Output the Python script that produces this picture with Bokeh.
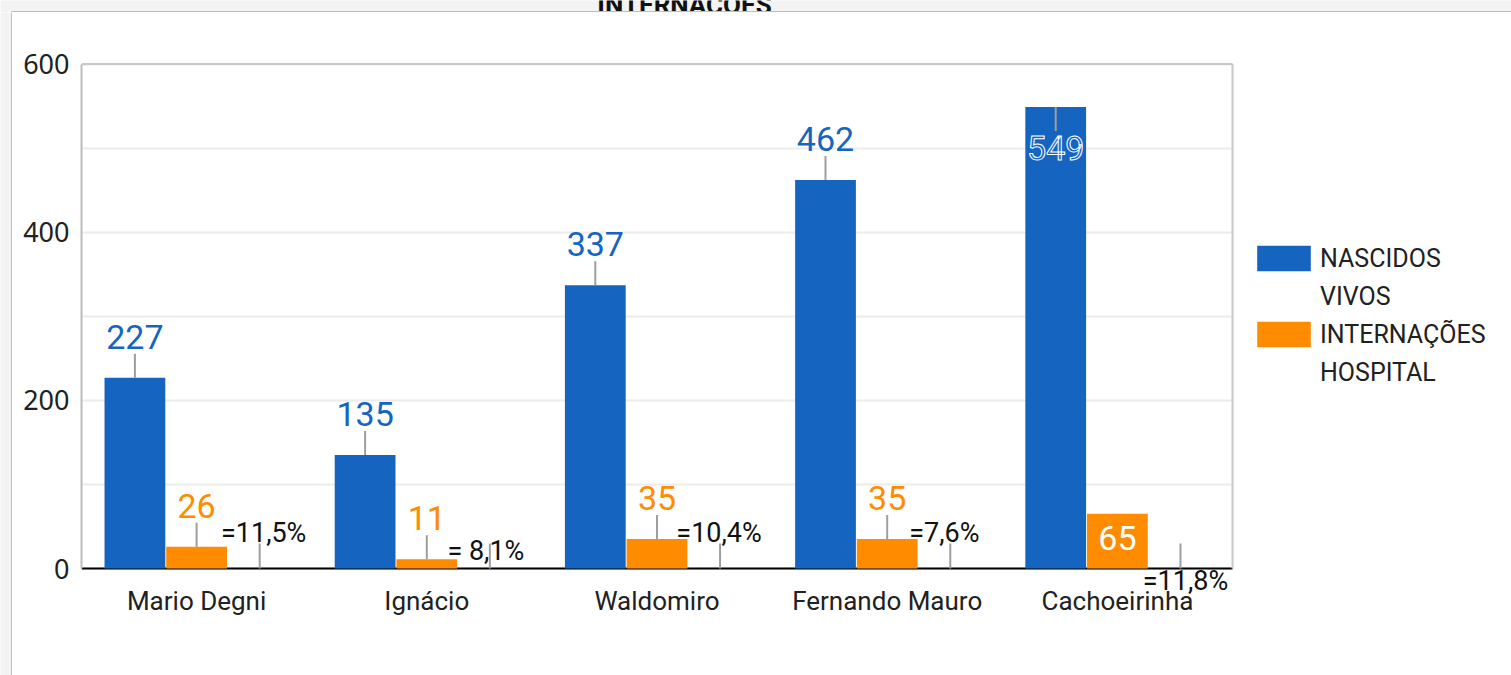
from bokeh.plotting import figure
from bokeh.layouts import column, row
from bokeh.models import (Range1d, ColumnDataSource, Legend, LegendItem,
                          FixedTicker, SingleIntervalTicker)
from bokeh.core.properties import value
from bokeh.embed import file_html
from bokeh.resources import INLINE

# ---------------- data ----------------
categories = ["Mario Degni", "Ignácio", "Waldomiro", "Fernando Mauro", "Cachoeirinha"]
nascidos_vivos = [227, 135, 337, 462, 549]
internacoes_hospital = [26, 11, 35, 35, 65]
percentuais = ["=11,5%", "= 8,1%", "=10,4%", "=7,6%", "=11,8%"]
y_ticks = [0, 200, 400, 600]
series_names = [["NASCIDOS", "VIVOS"], ["INTERNAÇÕES", "HOSPITAL"]]
title_text = "INTERNAÇÕES"

# ---------------- styles ----------------
BLUE = "#1565c0"
ORANGE = "#ff8c00"
LEADER = "#9e9e9e"
PAGE_GREY = "#f3f3f3"
CARD_EDGE = "#bdbdbd"
FRAME_EDGE = "#c8c8c8"
FONT = "Roboto"
blue_inside = [False, False, False, False, True]
orange_inside = [False, False, False, False, True]
pct_dx = [4, -4, -1, -6, 5]
pct_dy = [-36, -18, -36, -36, 12]

W, H = 1511, 675
CARD = 12                      # card offset from the page corner
MW, MH = W - CARD, H - CARD    # main figure size
# page pixel layout of the plotting frame
FL, FT, FB = 81, 62, 600
PX_PER_CAT = 230.2                     # category band width in pixels
Y0_PX, PX_PER_UNIT = 568, 0.8408       # value 0 position / scale

n = len(categories)
x_start = -0.5
x_end = x_start + (W - FL) / PX_PER_CAT
y_start = -(FB - Y0_PX) / PX_PER_UNIT
y_end = (Y0_PX - FT) / PX_PER_UNIT

# ---------------- header strip (page grey + clipped title) ----------------
header = figure(width=W, height=CARD, x_range=Range1d(0, W), y_range=Range1d(CARD, 0),
                x_axis_type=None, y_axis_type=None, min_border=0,
                toolbar_location=None, output_backend="svg")
header.frame_align = False
header.background_fill_color = PAGE_GREY
header.border_fill_color = PAGE_GREY
header.outline_line_color = None
header.text(x=[684], y=[4], text=[title_text], text_align="center", text_baseline="middle",
            text_font=value(FONT), text_font_style="bold", text_font_size="26px",
            text_color="#111111")
header.quad(left=[CARD - 1], right=[W], top=[CARD - 1.5], bottom=[CARD],
            fill_color=CARD_EDGE, line_color=None)

# ---------------- left strip ----------------
strip = figure(width=CARD, height=MH, x_range=Range1d(0, CARD), y_range=Range1d(0, MH),
               x_axis_type=None, y_axis_type=None, min_border=0,
               toolbar_location=None, output_backend="svg")
strip.frame_align = False
strip.background_fill_color = PAGE_GREY
strip.border_fill_color = PAGE_GREY
strip.outline_line_color = None
strip.quad(left=[CARD - 1.5], right=[CARD], top=[MH], bottom=[0],
           fill_color=CARD_EDGE, line_color=None)

# ---------------- main chart ----------------
p = figure(x_range=Range1d(x_start, x_end), y_range=Range1d(y_start, y_end),
           width=MW, height=MH, output_backend="svg", toolbar_location=None,
           min_border_left=FL - CARD, min_border_right=0, min_border_top=FT - CARD,
           min_border_bottom=H - FB)
p.frame_align = False
p.background_fill_color = "white"
p.border_fill_color = "white"
p.outline_line_color = None

p.xgrid.visible = False
p.ygrid.ticker = SingleIntervalTicker(interval=100)
p.ygrid.bounds = (0, 600)
p.ygrid.cross_bounds = (-0.5, n - 0.5)
p.ygrid.grid_line_color = "#ececec"
p.ygrid.grid_line_width = 2

p.yaxis.ticker = FixedTicker(ticks=y_ticks)
p.yaxis.bounds = (0, 600)
p.yaxis.axis_line_color = CARD_EDGE
p.yaxis.axis_line_width = 2
p.yaxis.major_tick_line_color = None
p.yaxis.minor_tick_line_color = None
p.yaxis.major_label_text_font = "Noto Sans"
p.yaxis.major_label_text_font_size = "27px"
p.yaxis.major_label_text_color = "#212121"
p.yaxis.major_label_standoff = 6

cat_pos = list(range(n))
p.xaxis.ticker = FixedTicker(ticks=cat_pos)
p.xaxis.major_label_overrides = {i: c for i, c in zip(cat_pos, categories)}
p.xaxis.bounds = (-0.5, n - 0.5)
p.xaxis.axis_line_color = None
p.xaxis.major_tick_line_color = None
p.xaxis.minor_tick_line_color = None
p.xaxis.major_label_text_font = FONT
p.xaxis.major_label_text_font_size = "26px"
p.xaxis.major_label_text_color = "#212121"
p.xaxis.major_label_standoff = -21

# frame edges: baseline (black), right and top (grey)
p.segment(x0=[-0.5], y0=[0], x1=[n - 0.5], y1=[0], line_color="black", line_width=2)
p.segment(x0=[n - 0.5, -0.5], y0=[0, 600], x1=[n - 0.5, n - 0.5], y1=[600, 600],
          line_color=FRAME_EDGE, line_width=2)

OFF_B, OFF_O, OFF_P, BW = -0.268, 0.0, 0.274, 0.264


def shifted(off):
    return [i + off for i in cat_pos]


src = ColumnDataSource(dict(xb=shifted(OFF_B), xo=shifted(OFF_O), nv=nascidos_vivos,
                            ih=internacoes_hospital))
r_blue = p.vbar(x="xb", top="nv", width=BW, source=src, fill_color=BLUE, line_color=None)
r_orange = p.vbar(x="xo", top="ih", width=BW, source=src, fill_color=ORANGE, line_color=None)
# invisible renderer used only for the second line of the legend labels
r_blank = p.vbar(x="xb", top="nv", width=BW, source=src, fill_alpha=0, line_alpha=0)


def labels(values, inside_flags, offset, color, inside_dy, inside_color, inside_outline, leader_inside):
    xs = shifted(offset)
    out = [i for i, f in enumerate(inside_flags) if not f]
    ins = [i for i, f in enumerate(inside_flags) if f]
    s_out = ColumnDataSource(dict(x=[xs[i] for i in out], v=[values[i] for i in out],
                                  t=[str(values[i]) for i in out]))
    s_in = ColumnDataSource(dict(x=[xs[i] for i in ins], v=[values[i] for i in ins],
                                 t=[str(values[i]) for i in ins]))
    p.ray(x="x", y="v", length=24, length_units="screen", angle=90, angle_units="deg",
          line_color=LEADER, line_width=2, source=s_out)
    p.text(x="x", y="v", text="t", source=s_out, y_offset=-41, text_align="center",
           text_baseline="middle", text_font=value(FONT), text_font_size="34px",
           text_color=color)
    if leader_inside:
        p.ray(x="x", y="v", length=24, length_units="screen", angle=-90, angle_units="deg",
              line_color=LEADER, line_width=2, source=s_in)
    kw = {}
    if inside_outline:
        kw["text_outline_color"] = inside_outline
    p.text(x="x", y="v", text="t", source=s_in, y_offset=inside_dy, text_align="center",
           text_baseline="middle", text_font=value(FONT), text_font_size="34px",
           text_color=inside_color, **kw)


labels(nascidos_vivos, blue_inside, OFF_B, BLUE, 41, BLUE, "white", True)
labels(internacoes_hospital, orange_inside, OFF_O, ORANGE, 24, "white", None, False)

# percentage series (zero-height, labels only)
psrc = ColumnDataSource(dict(x=shifted(OFF_P), v=[0] * n, t=percentuais, dx=pct_dx, dy=pct_dy))
p.ray(x="x", y="v", length=25, length_units="screen", angle=90, angle_units="deg",
      line_color=LEADER, line_width=2, source=psrc)
p.text(x="x", y="v", text="t", source=psrc, x_offset="dx", y_offset="dy", text_align="center",
       text_baseline="middle", text_font=value(FONT), text_font_size="27px",
       text_color="#111111")

legend = Legend(items=[LegendItem(label=series_names[0][0], renderers=[r_blue]),
                       LegendItem(label=series_names[0][1], renderers=[r_blank]),
                       LegendItem(label=series_names[1][0], renderers=[r_orange]),
                       LegendItem(label=series_names[1][1], renderers=[r_blank])],
                location=(1250 - FL, FB - 388), label_text_font=FONT,
                label_text_font_size="25px", label_text_color="#212121",
                glyph_width=67, glyph_height=32, label_height=32,
                label_standoff=3, spacing=6, padding=0, margin=0,
                border_line_color=None, background_fill_alpha=0)
p.add_layout(legend, "center")

layout = column(header, row(strip, p, spacing=0), spacing=0)
open("out.html", "w").write(file_html(layout, INLINE))
